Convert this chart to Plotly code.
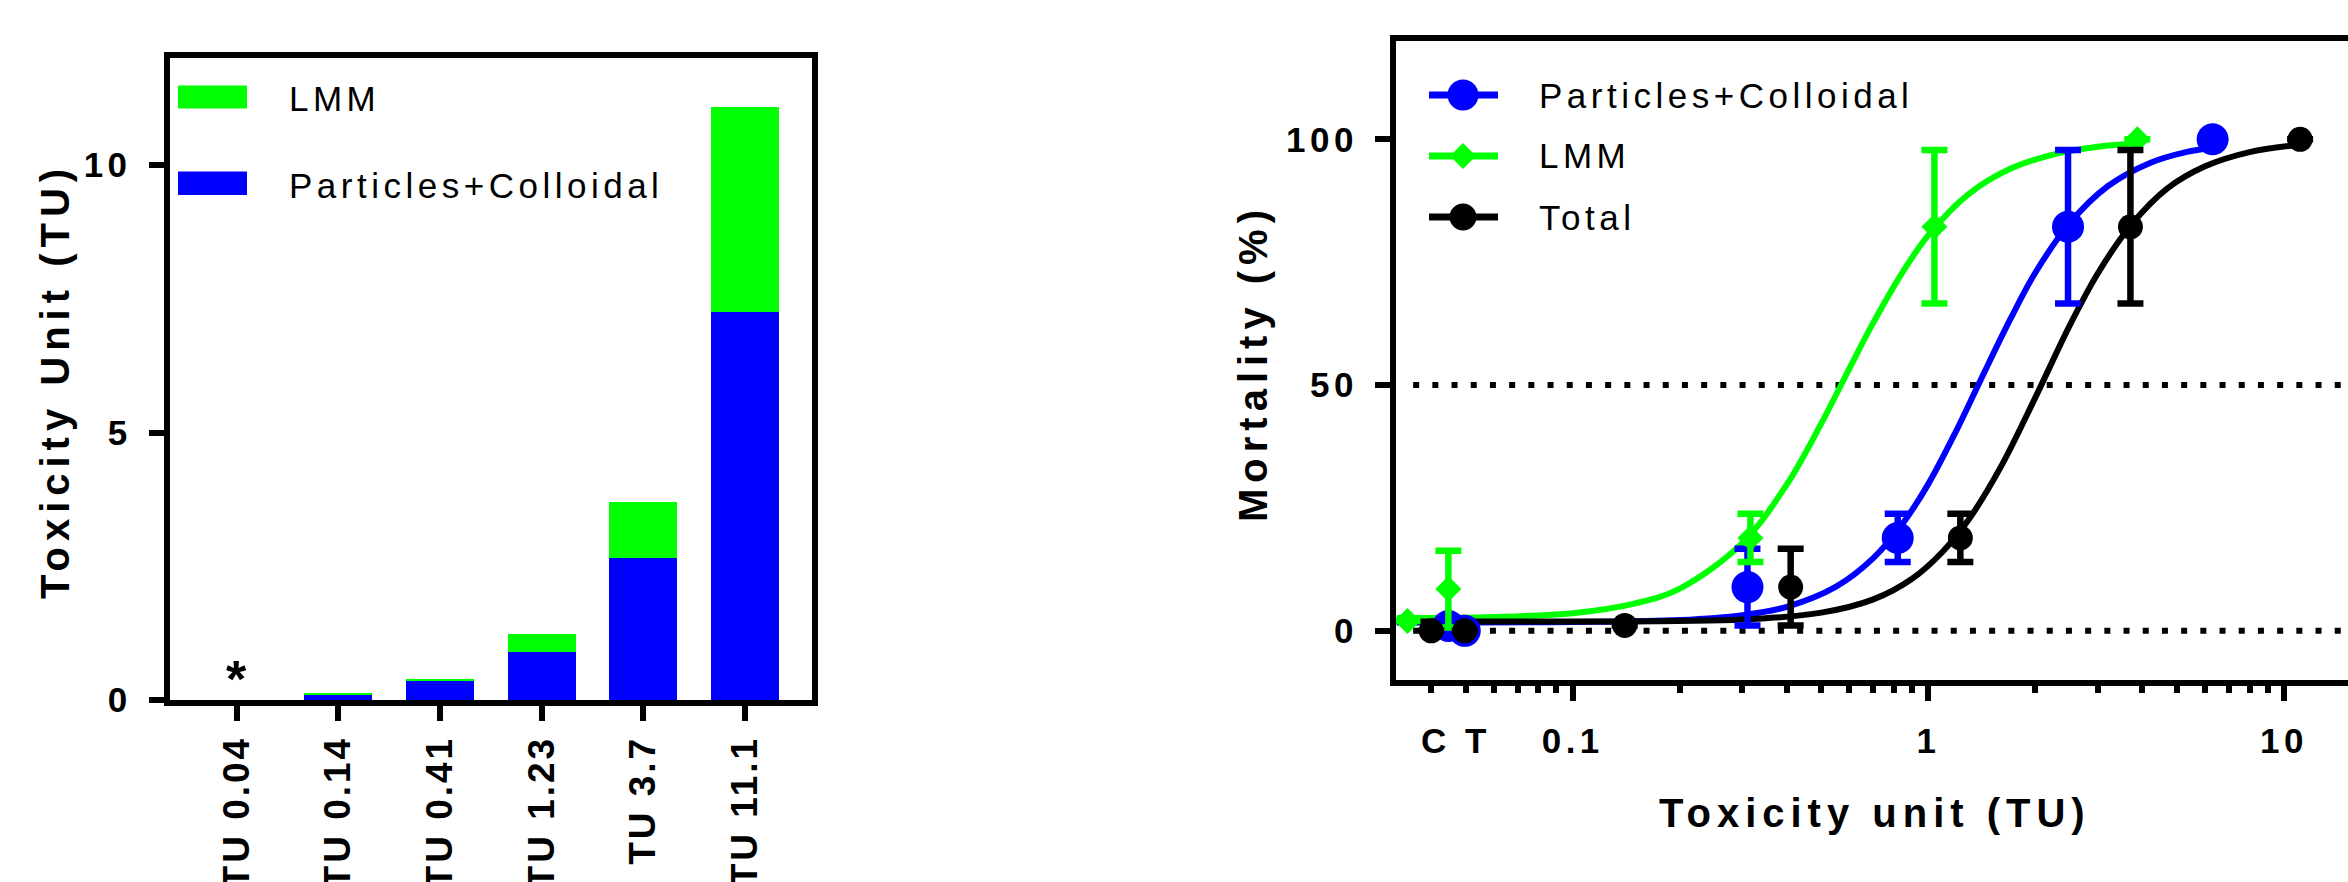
import math
import plotly.graph_objects as go

# ---------------- Left chart: stacked bars ----------------
categories = ["TU 0.04", "TU 0.14", "TU 0.41", "TU 1.23", "TU 3.7", "TU 11.1"]
particles_tu = [0.0, 0.09, 0.35, 0.90, 2.66, 7.25]
lmm_tu = [0.0, 0.04, 0.05, 0.33, 1.05, 3.84]
left_yticks = [0, 5, 10]
left_yticklabels = ["0", "5", "10"]
star_category = "TU 0.04"

# ---------------- Right chart: mortality vs TU ----------------
particles_x = [0.0447, 0.0497, 0.31, 0.82, 2.47, 6.3]
particles_y = [1.0, 0.0, 8.9, 18.9, 82.2, 100.0]
particles_err = [None, None, 7.8, 4.9, 15.6, None]

lmm_x = [0.0343, 0.0447, 0.316, 1.04, 3.87]
lmm_y = [2.0, 8.5, 18.9, 82.2, 100.0]
lmm_err = [None, 7.8, 4.9, 15.6, None]

total_x = [0.040, 0.0497, 0.14, 0.41, 1.23, 3.7, 11.1]
total_y = [0.0, 0.0, 1.1, 8.9, 18.9, 82.2, 100.0]
total_err = [None, None, None, 7.8, 4.9, 15.6, None]

# fitted curves
particles_curve_x = [0.032, 0.1, 0.2, 0.3, 0.4, 0.55, 0.7, 0.85, 1.0, 1.2, 1.4, 1.7, 2.0, 2.5, 3.2, 4.2, 5.3, 6.3]
particles_curve_y = [1.7, 1.8, 2.2, 3.2, 4.9, 9.0, 14.8, 22.0, 29.9, 40.8, 50.9, 63.4, 72.9, 83.0, 90.5, 95.2, 97.4, 98.3]
lmm_curve_x = [0.032, 0.06, 0.1, 0.15, 0.2, 0.3, 0.4, 0.5, 0.6, 0.7, 0.85, 1.0, 1.3, 1.7, 2.3, 3.0, 3.87]
lmm_curve_y = [2.6, 2.8, 3.6, 5.6, 8.6, 17.9, 29.8, 42.2, 53.4, 62.7, 73.2, 80.5, 88.9, 94.0, 97.1, 98.5, 99.2]
total_curve_x = [0.032, 0.1, 0.3, 0.5, 0.7, 0.9, 1.1, 1.3, 1.6, 2.0, 2.5, 3.0, 3.7, 4.7, 6.0, 8.0, 11.1]
total_curve_y = [1.9, 1.9, 2.3, 3.7, 6.4, 10.6, 16.2, 22.7, 33.4, 47.5, 62.2, 72.8, 82.4, 90.0, 94.5, 97.4, 98.9]

right_xticks = [0.1, 1, 10]
right_xticklabels = ["0.1", "1", "10"]
right_minor_ticks = [0.04, 0.05, 0.06, 0.07, 0.08, 0.09,
                     0.2, 0.3, 0.4, 0.5, 0.6, 0.7, 0.8, 0.9,
                     2, 3, 4, 5, 6, 7, 8, 9]
right_yticks = [0, 50, 100]
right_yticklabels = ["0", "50", "100"]
reference_levels = [0, 50]
ct_label_x = 0.047

BLUE = "#0000FF"
GREEN = "#00FF00"
BLACK = "#000000"

W, H = 2348, 882
STAR_LEVEL = 0.4


def px_x(x):
    return x / W


def px_y(y):
    return 1 - y / H


def sp(text, spacing):
    return '<span style="letter-spacing:%spx">%s</span>' % (spacing, text)


FAM = "Liberation Sans"
TICKFONT = dict(family=FAM, size=35, color="black", weight="bold")
CATFONT = dict(family=FAM, size=37, color="black", weight="bold")
TITLEFONT = dict(family=FAM, size=40, color="black", weight="bold")
LEGFONT = dict(family=FAM, size=35, color="black")
TICK_SP = 4.5
TITLE_SP = 6
LEG_SP = 4.5

fig = go.Figure()

# bars
fig.add_trace(go.Bar(x=categories, y=particles_tu, marker=dict(color=BLUE, line=dict(width=0)),
                     width=0.67, name="Particles+Colloidal", xaxis="x", yaxis="y", showlegend=False))
fig.add_trace(go.Bar(x=categories, y=lmm_tu, marker=dict(color=GREEN, line=dict(width=0)),
                     width=0.67, name="LMM", xaxis="x", yaxis="y", showlegend=False))

# curves
for cx, cy, col in [(particles_curve_x, particles_curve_y, BLUE),
                    (lmm_curve_x, lmm_curve_y, GREEN),
                    (total_curve_x, total_curve_y, BLACK)]:
    fig.add_trace(go.Scatter(x=cx, y=cy, mode="lines", line=dict(color=col, width=6, shape="spline"),
                             xaxis="x2", yaxis="y2", showlegend=False, hoverinfo="skip", cliponaxis=False))

# points with error bars
for px_, py_, pe, col, sym, sz, nm in [
        (particles_x, particles_y, particles_err, BLUE, "circle", 32, "Particles+Colloidal"),
        (lmm_x, lmm_y, lmm_err, GREEN, "diamond", 20, "LMM"),
        (total_x, total_y, total_err, BLACK, "circle", 25, "Total")]:
    fig.add_trace(go.Scatter(x=px_, y=py_, mode="markers", name=nm,
                             marker=dict(color=col, symbol=sym, size=sz, line=dict(width=0)),
                             error_y=dict(type="data", array=pe, visible=True, thickness=6.5, width=13, color=col),
                             xaxis="x2", yaxis="y2", showlegend=False, cliponaxis=False))

# legend glyphs for the right chart (overlay paper-like axes)
leg_x0, leg_xm, leg_x1 = px_x(1429), px_x(1463), px_x(1498)
for yy, col, sym, sz in [(95, BLUE, "circle", 31), (156, GREEN, "diamond", 20), (217, BLACK, "circle", 27)]:
    fig.add_trace(go.Scatter(x=[leg_x0, leg_x1], y=[px_y(yy)] * 2, mode="lines",
                             line=dict(color=col, width=7), xaxis="x3", yaxis="y3",
                             showlegend=False, hoverinfo="skip"))
    fig.add_trace(go.Scatter(x=[leg_xm], y=[px_y(yy)], mode="markers",
                             marker=dict(color=col, symbol=sym, size=sz, line=dict(width=0)),
                             xaxis="x3", yaxis="y3", showlegend=False, hoverinfo="skip"))

shapes = []
# left legend swatches
shapes.append(dict(type="rect", xref="paper", yref="paper", x0=px_x(178), x1=px_x(247),
                   y0=px_y(108.5), y1=px_y(85.5), fillcolor=GREEN, line=dict(width=0)))
shapes.append(dict(type="rect", xref="paper", yref="paper", x0=px_x(178), x1=px_x(247),
                   y0=px_y(195), y1=px_y(171.5), fillcolor=BLUE, line=dict(width=0)))
# dotted reference lines
for lv in reference_levels:
    shapes.append(dict(type="line", xref="x2 domain", yref="y2", x0=0.018, x1=1, y0=lv, y1=lv,
                       line=dict(color=BLACK, width=6, dash="6px,13.2px"), layer="below"))

annotations = [
    dict(text=sp("Toxicity Unit (TU)", TITLE_SP), xref="paper", yref="paper", x=px_x(55), y=px_y(381),
         textangle=-90, showarrow=False, font=TITLEFONT, xanchor="center", yanchor="middle"),
    dict(text=sp("Mortality (%)", TITLE_SP), xref="paper", yref="paper", x=px_x(1253), y=px_y(363),
         textangle=-90, showarrow=False, font=TITLEFONT, xanchor="center", yanchor="middle"),
    dict(text=sp("Toxicity unit (TU)", TITLE_SP), xref="paper", yref="paper", x=px_x(1875), y=px_y(813),
         showarrow=False, font=TITLEFONT, xanchor="center", yanchor="middle"),
    dict(text=sp("C T", TICK_SP), xref="x2", yref="paper", x=math.log10(ct_label_x), y=px_y(740),
         showarrow=False, font=TICKFONT, xanchor="center", yanchor="middle"),
    dict(text="*", xref="x", yref="y", x=star_category, y=STAR_LEVEL, showarrow=False,
         font=dict(family=FAM, size=52, color="black", weight="bold"),
         xanchor="center", yanchor="middle"),
    dict(text=sp("LMM", LEG_SP), xref="paper", yref="paper", x=px_x(287), y=px_y(98), showarrow=False,
         font=LEGFONT, xanchor="left", yanchor="middle"),
    dict(text=sp("Particles+Colloidal", LEG_SP), xref="paper", yref="paper", x=px_x(287), y=px_y(185),
         showarrow=False, font=LEGFONT, xanchor="left", yanchor="middle"),
    dict(text=sp("Particles+Colloidal", LEG_SP), xref="paper", yref="paper", x=px_x(1537), y=px_y(95),
         showarrow=False, font=LEGFONT, xanchor="left", yanchor="middle"),
    dict(text=sp("LMM", LEG_SP), xref="paper", yref="paper", x=px_x(1537), y=px_y(156), showarrow=False,
         font=LEGFONT, xanchor="left", yanchor="middle"),
    dict(text=sp("Total", LEG_SP), xref="paper", yref="paper", x=px_x(1537), y=px_y(217), showarrow=False,
         font=LEGFONT, xanchor="left", yanchor="middle"),
]

axis_common = dict(showline=True, linewidth=6, linecolor=BLACK, ticks="outside", tickwidth=6,
                   tickcolor=BLACK, showgrid=False, zeroline=False, automargin=False)

fig.update_layout(
    width=W, height=H, margin=dict(l=0, r=0, t=0, b=0),
    paper_bgcolor="white", plot_bgcolor="rgba(0,0,0,0)",
    barmode="stack", showlegend=False,
    xaxis=dict(domain=[px_x(169.6), px_x(812)], range=[-0.662, 5.662], mirror=True, ticklen=15,
               tickmode="array", tickvals=categories, ticktext=[sp(c, 3) for c in categories],
               tickangle=-90, anchor="y", ticklabelstandoff=0, tickfont=CATFONT, **axis_common),
    yaxis=dict(domain=[px_y(700), px_y(58)], range=[0, 12], tickmode="array", tickvals=left_yticks,
               ticktext=[sp(t, TICK_SP) for t in left_yticklabels], mirror=True,
               ticklen=15, anchor="x", ticklabelstandoff=10, tickfont=TICKFONT, **axis_common),
    xaxis2=dict(domain=[px_x(1396), 1.0], type="log", range=[-1.497, 1.18], tickmode="array",
                tickvals=right_xticks, ticktext=[sp(t, TICK_SP) for t in right_xticklabels],
                mirror=True, ticklen=15, anchor="y2", ticklabelstandoff=10, tickfont=TICKFONT,
                minor=dict(tickvals=right_minor_ticks, ticks="outside", ticklen=7, tickwidth=6,
                           tickcolor=BLACK, showgrid=False),
                **axis_common),
    yaxis2=dict(domain=[px_y(680), px_y(41)], range=[-10, 120], tickmode="array", tickvals=right_yticks,
                ticktext=[sp(t, TICK_SP) for t in right_yticklabels], mirror=False,
                ticklen=15, anchor="x2", ticklabelstandoff=10, tickfont=TICKFONT, **axis_common),
    xaxis3=dict(domain=[0, 1], range=[0, 1], visible=False, anchor="y3", fixedrange=True),
    yaxis3=dict(domain=[0, 1], range=[0, 1], visible=False, anchor="x3", fixedrange=True),
    shapes=shapes, annotations=annotations,
)

fig.write_html("out.html", config={"displayModeBar": False},
               post_script="document.body.style.margin='0px';document.body.style.overflow='hidden';")
